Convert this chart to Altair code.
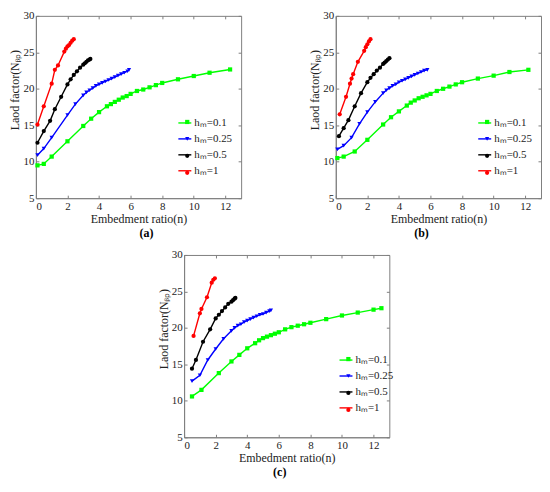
import altair as alt
import pandas as pd

SERIES = ["hₘ=0.1", "hₘ=0.25", "hₘ=0.5", "hₘ=1"]
COLORS = ["#00ff00", "#0000ff", "#000000", "#ff0000"]
SHAPES = ["square", "triangle-down", "circle", "circle"]
X_TICKS = [0, 2, 4, 6, 8, 10, 12]
Y_TICKS = [5, 10, 15, 20, 25, 30]
X_TITLE = "Embedment ratio(n)"
Y_TITLE = "Laod factor(Nᵦₚ)"
CAPTIONS = ["(a)", "(b)", "(c)"]

# ---- panel (a)
a_n1 = [0.1, 0.5, 1.0, 2.0, 3.0, 3.5, 4.0, 4.5, 4.75, 5.0, 5.25, 5.5, 5.75, 6.0, 6.4, 6.8, 7.2, 7.6, 8.0, 9.0, 10.0, 11.0, 12.3]
a_v1 = [9.5, 9.7, 10.7, 12.8, 14.9, 15.9, 16.8, 17.6, 17.9, 18.2, 18.5, 18.8, 19.0, 19.3, 19.7, 19.9, 20.2, 20.5, 20.8, 21.3, 21.75, 22.2, 22.65]
a_n2 = [0.1, 0.5, 1.0, 2.0, 2.5, 3.0, 3.2, 3.4, 3.6, 3.8, 4.0, 4.2, 4.4, 4.6, 4.8, 5.0, 5.2, 5.4, 5.6, 5.8, 5.9]
a_v2 = [10.9, 11.8, 13.3, 16.4, 17.9, 19.1, 19.5, 19.8, 20.1, 20.4, 20.6, 20.8, 21.0, 21.2, 21.4, 21.6, 21.8, 22.0, 22.2, 22.4, 22.6]
a_n3 = [0.1, 0.5, 0.9, 1.2, 1.6, 2.0, 2.2, 2.4, 2.6, 2.8, 3.0, 3.1, 3.2, 3.3, 3.4, 3.45]
a_v3 = [12.6, 14.2, 15.6, 17.2, 18.9, 20.6, 21.3, 21.9, 22.4, 22.9, 23.3, 23.5, 23.7, 23.9, 24.0, 24.1]
a_n4 = [0.1, 0.5, 1.0, 1.2, 1.4, 1.8, 1.9, 2.0, 2.1, 2.2, 2.3, 2.4]
a_v4 = [15.1, 17.6, 20.7, 22.6, 23.2, 25.1, 25.5, 25.8, 26.0, 26.3, 26.6, 26.8]

# ---- panel (b)
b_n1 = [0.1, 0.5, 1.2, 2.0, 3.0, 3.5, 4.0, 4.5, 4.75, 5.0, 5.25, 5.5, 5.75, 6.0, 6.4, 6.8, 7.2, 7.6, 8.0, 9.0, 10.0, 11.0, 12.2]
b_v1 = [10.5, 10.7, 11.4, 13.0, 15.1, 16.1, 16.9, 17.7, 18.1, 18.4, 18.7, 18.9, 19.1, 19.3, 19.7, 20.0, 20.3, 20.6, 20.9, 21.4, 21.8, 22.3, 22.6]
b_n2 = [0.1, 0.5, 1.0, 1.5, 2.0, 2.5, 3.0, 3.2, 3.4, 3.6, 3.8, 4.0, 4.2, 4.4, 4.6, 4.8, 5.0, 5.2, 5.4, 5.6, 5.8]
b_v2 = [11.7, 12.2, 13.3, 15.2, 16.8, 18.2, 19.4, 19.8, 20.1, 20.4, 20.6, 20.9, 21.1, 21.3, 21.5, 21.7, 21.9, 22.1, 22.3, 22.5, 22.6]
b_n3 = [0.2, 0.5, 0.8, 1.2, 1.6, 2.0, 2.2, 2.4, 2.6, 2.8, 3.0, 3.1, 3.2, 3.3, 3.4]
b_v3 = [13.5, 14.6, 15.7, 17.6, 19.4, 20.9, 21.5, 22.0, 22.5, 22.9, 23.4, 23.6, 23.8, 24.0, 24.2]
b_n4 = [0.25, 0.65, 0.9, 1.0, 1.1, 1.4, 1.8, 1.9, 2.0, 2.1, 2.2]
b_v4 = [16.5, 18.9, 20.7, 21.4, 22.0, 23.7, 25.2, 25.7, 26.1, 26.5, 26.8]

# ---- panel (c)
c_n1 = [0.5, 1.1, 2.2, 3.0, 3.5, 4.0, 4.5, 4.75, 5.0, 5.25, 5.5, 5.75, 6.0, 6.4, 6.8, 7.2, 7.6, 8.0, 9.0, 10.0, 11.0, 12.0, 12.5]
c_v1 = [10.6, 11.5, 13.8, 15.4, 16.3, 17.2, 17.9, 18.3, 18.6, 18.8, 19.0, 19.2, 19.4, 19.8, 20.1, 20.3, 20.5, 20.7, 21.2, 21.7, 22.1, 22.5, 22.7]
c_n2 = [0.5, 1.0, 1.5, 2.0, 2.5, 3.0, 3.2, 3.4, 3.6, 3.8, 4.0, 4.2, 4.4, 4.6, 4.8, 5.0, 5.2, 5.4, 5.5]
c_v2 = [12.7, 13.5, 15.6, 17.1, 18.5, 19.6, 20.0, 20.3, 20.5, 20.8, 21.0, 21.2, 21.4, 21.6, 21.8, 21.9, 22.1, 22.3, 22.4]
c_n3 = [0.5, 0.75, 1.2, 1.65, 2.0, 2.2, 2.4, 2.6, 2.8, 3.0, 3.1, 3.2, 3.25]
c_v3 = [14.4, 15.6, 18.1, 19.8, 21.3, 21.8, 22.3, 22.8, 23.3, 23.6, 23.8, 24.0, 24.1]
c_n4 = [0.6, 1.0, 1.1, 1.45, 1.75, 1.85, 1.95]
c_v4 = [18.9, 22.0, 22.6, 24.2, 26.2, 26.6, 26.8]

FONT = "Liberation Serif"
W, H = 206, 183


def make_df(ns, vs):
    rows = []
    for name, n_list, v_list in zip(SERIES, ns, vs):
        for n, v in zip(n_list, v_list):
            rows.append({"n": n, "N": v, "series": name, "series2": name})
    return pd.DataFrame(rows)


def panel(df, caption, lx, ly, cap_dx):
    xs = alt.Scale(domain=[0, 13], nice=False, zero=False)
    ys = alt.Scale(domain=[5, 30], nice=False, zero=False)
    base = alt.Chart(df)
    lines = base.mark_line(strokeWidth=1.4).encode(
        x=alt.X("n:Q", scale=xs, axis=alt.Axis(values=X_TICKS, title=X_TITLE, tickSize=0,
                                               labelPadding=2, titlePadding=2)),
        y=alt.Y("N:Q", scale=ys, axis=alt.Axis(values=Y_TICKS, title=Y_TITLE, tickSize=0,
                                               labelPadding=2, titlePadding=1, titleY=74)),
        color=alt.Color("series:N", scale=alt.Scale(domain=SERIES, range=COLORS),
                        legend=alt.Legend(orient="none", legendX=lx, legendY=ly, title=None,
                                          symbolType="stroke", symbolSize=169, symbolStrokeWidth=1.4,
                                          labelFont=FONT, labelFontSize=11, labelOffset=2,
                                          rowPadding=3)),
        detail="series:N",
    )
    marker_legend = alt.Legend(orient="none", legendX=lx + 4.4, legendY=ly + 1, title=None,
                               symbolSize=18, labelFont=FONT, labelFontSize=11,
                               labelExpr="''", rowPadding=5)
    pts = base.mark_point(filled=True, size=18, opacity=1).encode(
        x=alt.X("n:Q", scale=xs, axis=alt.Axis(values=X_TICKS, orient="top", offset=-H, labels=False,
                                               domain=False, tickSize=3, title=None)),
        y=alt.Y("N:Q", scale=ys, axis=alt.Axis(values=Y_TICKS, orient="right", offset=-W, labels=False,
                                               domain=False, tickSize=3, title=None)),
        color=alt.Color("series2:N", scale=alt.Scale(domain=SERIES, range=COLORS), legend=marker_legend),
        shape=alt.Shape("series2:N", scale=alt.Scale(domain=SERIES, range=SHAPES), legend=marker_legend),
    )
    ticks2 = base.mark_point(opacity=0).encode(
        x=alt.X("n:Q", scale=xs, axis=alt.Axis(values=X_TICKS, orient="bottom", offset=-H, labels=False,
                                               domain=False, tickSize=3, title=None)),
        y=alt.Y("N:Q", scale=ys, axis=alt.Axis(values=Y_TICKS, orient="left", offset=-W, labels=False,
                                               domain=False, tickSize=3, title=None)),
    )
    return (
        alt.layer(lines, pts, ticks2)
        .resolve_scale(color="independent", shape="independent")
        .resolve_axis(x="independent", y="independent")
        .properties(
            width=W, height=H,
            title=alt.TitleParams(caption, orient="bottom", font=FONT, fontSize=12,
                                  fontWeight="bold", frame="group", offset=4, dx=cap_dx,
                                  color="#000"),
        )
    )


pa = panel(make_df([a_n1, a_n2, a_n3, a_n4], [a_v1, a_v2, a_v3, a_v4]), CAPTIONS[0], 142, 100, 8)
pb = panel(make_df([b_n1, b_n2, b_n3, b_n4], [b_v1, b_v2, b_v3, b_v4]), CAPTIONS[1], 142, 100, -17)
pc = panel(make_df([c_n1, c_n2, c_n3, c_n4], [c_v1, c_v2, c_v3, c_v4]), CAPTIONS[2], 155, 98, -7)

top = alt.hconcat(pa, pb, spacing=66).resolve_scale(color="independent", shape="independent")
chart = (
    alt.vconcat(top, pc, spacing=8, center=True)
    .resolve_scale(color="independent", shape="independent")
    .properties(padding=0)
    .configure_view(stroke="#808080", strokeWidth=1)
    .configure_axis(
        grid=False,
        domainColor="#808080",
        tickColor="#808080",
        labelFont=FONT,
        labelFontSize=11,
        labelColor="#222222",
        titleFont=FONT,
        titleFontSize=12,
        titleFontWeight="normal",
        titleColor="#222222",
    )
    .configure_legend(labelColor="#222222")
)

chart.save("out.html", embed_options={"renderer": "svg", "actions": False})
